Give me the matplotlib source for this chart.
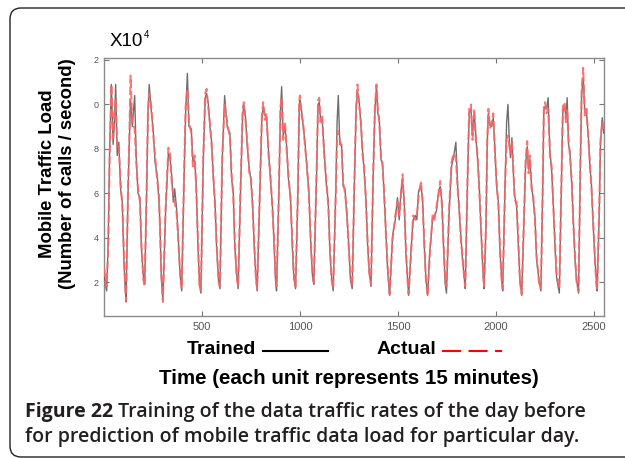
import matplotlib
matplotlib.use("Agg")
import matplotlib.pyplot as plt
from matplotlib.patches import FancyBboxPatch
from matplotlib.lines import Line2D
from matplotlib.transforms import IdentityTransform

plt.rcParams["font.family"] = ["Liberation Sans", "DejaVu Sans"]
plt.rcParams["lines.scale_dashes"] = False

time = [
    0, 6, 12, 20, 27, 36, 45, 52, 58, 66, 74, 83, 92, 100, 106, 111,
    121, 128, 134, 143, 155, 163, 172, 182, 189, 199, 206,
    216, 223, 229, 240, 250, 259, 271, 279, 284, 291, 299,
    313, 327, 335, 344, 352, 359, 369, 376, 386, 395,
    407, 415, 424, 432, 444, 452, 461, 469, 478, 486, 493,
    505, 515, 522, 531, 539, 548, 556, 565, 573, 583, 590,
    602, 614, 627, 641, 650, 658, 666, 675, 683,
    695, 706, 712, 721, 729, 740, 748, 757, 765, 774, 780,
    794, 804, 811, 820, 828, 838, 848, 859, 867, 874, 879,
    891, 899, 905, 913, 922, 930, 940, 950, 959, 967, 976,
    988, 995, 998, 1007, 1015, 1025, 1035, 1044, 1054, 1063, 1069,
    1083, 1091, 1097, 1103, 1112, 1120, 1131, 1143, 1151, 1160, 1168,
    1182, 1188, 1194, 1202, 1211, 1219, 1228, 1236, 1245, 1256, 1265,
    1276, 1285, 1292, 1301, 1310, 1318, 1326, 1335, 1344, 1352, 1361,
    1372, 1381, 1389, 1396, 1403, 1412, 1420, 1429, 1437, 1446, 1456,
    1471, 1485, 1496, 1505, 1514, 1522, 1531, 1539, 1548, 1553,
    1565, 1576, 1587, 1595, 1604, 1616, 1624, 1633, 1641, 1650,
    1661, 1675, 1685, 1695, 1706, 1714, 1723, 1731, 1740, 1746,
    1760, 1772, 1782, 1794, 1803, 1811, 1820, 1828, 1837, 1842,
    1854, 1862, 1871, 1879, 1888, 1896, 1905, 1913, 1926, 1934, 1938,
    1948, 1954, 1960, 1968, 1977, 1985, 1994, 2002, 2011, 2019, 2028, 2033,
    2045, 2053, 2060, 2067, 2073, 2080, 2087, 2094, 2104, 2113, 2121, 2130,
    2141, 2150, 2158, 2165, 2172, 2180, 2189, 2198, 2206, 2218, 2228,
    2237, 2243, 2249, 2257, 2265, 2274, 2283, 2291, 2300, 2308, 2322,
    2332, 2340, 2349, 2356, 2362, 2369, 2376, 2386, 2393, 2402, 2410, 2420,
    2430, 2436, 2444, 2452, 2461, 2470, 2478, 2486, 2495, 2504, 2512, 2515,
    2526, 2532, 2541, 2549,
]

# load in units of 10^4 calls / second
actual = [
    2.6, 2.0, 1.8, 3.5, 7.5, 10.9, 8.5, 9.6, 10.2, 8.0, 8.1, 6.5, 5.4, 3.2, 2.0, 1.15,
    6.2, 8.7, 11.3, 9.2, 8.9, 7.4, 6.2, 5.6, 3.8, 2.1, 1.8,
    6.2, 9.8, 10.5, 9.9, 8.6, 7.7, 6.5, 5.9, 4.4, 2.4, 1.1,
    5.4, 8.05, 7.8, 6.5, 5.9, 5.6, 5.1, 4.1, 2.6, 1.7,
    6.9, 9.9, 10.7, 9.2, 8.7, 7.2, 7.7, 6.2, 3.8, 1.8, 1.6,
    7.7, 10.5, 10.7, 9.8, 9.2, 8.1, 6.9, 5.4, 3.8, 2.0, 1.8,
    7.7, 10.0, 9.2, 8.5, 6.8, 5.9, 3.8, 2.3, 1.8,
    6.2, 9.8, 10.1, 9.2, 8.4, 6.9, 6.8, 5.3, 3.8, 2.1, 1.7,
    6.2, 9.5, 10.1, 9.3, 9.6, 7.7, 6.8, 5.1, 3.8, 2.3, 1.8,
    6.2, 9.9, 10.3, 8.4, 9.2, 8.0, 6.8, 5.7, 3.9, 2.4, 1.8,
    6.2, 10.2, 10.4, 9.5, 9.2, 8.0, 7.2, 5.9, 3.8, 2.3, 2.0,
    6.9, 10.2, 10.3, 9.2, 9.5, 8.0, 6.8, 5.4, 3.6, 2.1, 1.7,
    6.2, 8.6, 8.8, 8.4, 8.0, 6.5, 6.0, 5.4, 3.9, 2.3, 1.8,
    6.5, 9.9, 10.9, 9.9, 9.2, 7.7, 7.2, 5.6, 3.8, 2.4, 1.9,
    6.9, 9.9, 10.9, 9.8, 9.2, 7.7, 7.2, 5.9, 4.1, 2.7, 1.45,
    3.9, 5.0, 5.6, 5.0, 5.9, 6.85, 5.4, 3.5, 2.0, 1.45,
    3.2, 5.0, 4.8, 5.0, 5.9, 6.55, 5.6, 3.8, 2.1, 1.4,
    3.2, 5.0, 4.8, 5.4, 5.9, 6.55, 5.4, 3.8, 2.0, 1.8,
    5.4, 7.4, 7.8, 7.6, 6.2, 5.4, 3.8, 3.2, 2.1, 1.8,
    6.9, 9.8, 10.0, 8.4, 9.8, 8.4, 7.7, 6.2, 3.8, 2.3, 1.8,
    4.7, 8.4, 9.8, 8.9, 9.2, 9.6, 7.7, 6.5, 5.4, 3.6, 2.0, 1.7,
    6.2, 8.4, 8.6, 8.1, 7.8, 8.3, 7.2, 5.7, 5.6, 3.8, 2.0, 1.45,
    4.7, 7.5, 8.35, 6.9, 7.7, 6.2, 5.9, 4.7, 3.2, 2.0, 1.7,
    6.2, 9.9, 10.1, 9.6, 9.8, 7.7, 7.2, 5.4, 3.8, 2.4, 1.7,
    6.2, 9.9, 10.1, 9.2, 9.8, 8.4, 7.7, 6.5, 4.7, 3.2, 2.0, 1.6,
    7.7, 10.7, 11.65, 9.5, 9.8, 8.4, 7.4, 6.2, 4.7, 2.9, 1.8, 1.7,
    5.4, 8.4, 9.2, 8.9,
]

trained = [
    2.4, 1.9, 1.6, 3.8, 7.8, 10.9, 8.2, 9.2, 10.9, 7.7, 8.3, 6.2, 5.6, 3.0, 1.8, 1.1,
    5.9, 8.4, 10.2, 9.0, 10.4, 7.6, 6.0, 5.8, 3.6, 2.3, 1.9,
    6.0, 9.6, 10.9, 9.7, 8.8, 7.4, 6.7, 5.6, 4.6, 2.2, 1.2,
    5.2, 7.8, 7.6, 6.8, 5.6, 6.2, 5.3, 4.3, 2.4, 1.6,
    6.6, 9.6, 11.4, 9.0, 8.9, 7.4, 7.5, 6.4, 3.6, 1.9, 1.5,
    7.4, 10.3, 10.5, 10.0, 9.0, 8.3, 6.7, 5.6, 3.6, 2.1, 1.7,
    7.5, 10.4, 9.0, 8.7, 6.6, 6.1, 3.6, 2.4, 1.7,
    6.0, 9.5, 10.0, 9.4, 8.2, 7.1, 6.6, 5.5, 3.6, 2.2, 1.6,
    6.0, 9.3, 9.9, 9.5, 9.4, 7.9, 6.6, 5.3, 3.6, 2.0, 1.6,
    6.0, 9.7, 10.8, 8.6, 9.0, 8.2, 6.6, 5.9, 3.7, 2.2, 1.7,
    6.0, 10.0, 10.2, 9.7, 9.0, 8.2, 7.0, 6.1, 3.6, 2.2, 1.9,
    6.7, 10.0, 10.1, 9.4, 9.3, 8.2, 6.6, 5.6, 3.4, 2.2, 1.6,
    6.4, 9.2, 10.4, 8.2, 8.2, 6.3, 6.2, 5.2, 4.1, 2.1, 1.7,
    6.3, 9.7, 10.6, 10.1, 9.0, 7.9, 7.0, 5.8, 3.6, 2.5, 1.8,
    6.7, 9.7, 10.8, 9.6, 9.4, 7.5, 7.4, 5.7, 4.3, 2.5, 1.4,
    4.1, 4.8, 5.8, 4.8, 6.1, 6.6, 5.6, 3.3, 2.1, 1.4,
    3.4, 4.8, 5.0, 4.8, 6.1, 6.3, 5.8, 3.6, 2.2, 1.4,
    3.4, 4.8, 5.0, 5.2, 6.1, 6.3, 5.6, 3.6, 1.9, 1.5,
    5.2, 7.2, 7.6, 8.3, 6.4, 5.2, 4.0, 3.0, 2.2, 1.7,
    6.7, 9.6, 9.8, 8.6, 9.6, 8.6, 7.5, 6.4, 3.6, 2.2, 1.7,
    4.5, 8.2, 9.6, 9.1, 9.0, 9.4, 7.9, 6.3, 5.6, 3.4, 2.1, 1.6,
    6.4, 9.2, 10.0, 8.3, 7.6, 8.5, 7.0, 5.9, 5.4, 3.6, 2.1, 1.4,
    4.5, 7.3, 8.1, 7.1, 7.5, 6.4, 5.7, 4.9, 3.0, 2.1, 1.6,
    6.0, 9.7, 9.9, 9.8, 10.3, 7.9, 7.0, 5.6, 3.6, 2.2, 1.5,
    6.0, 9.7, 9.9, 9.4, 10.3, 8.2, 7.9, 6.3, 4.9, 3.0, 2.1, 1.5,
    7.5, 10.5, 11.2, 9.7, 9.6, 8.6, 7.2, 6.4, 4.5, 3.0, 1.9, 1.6,
    5.2, 8.2, 9.4, 8.7,
]

xticks = [500, 1000, 1500, 2000, 2500]
yticks = [12, 10, 8, 6, 4, 2]
ytick_labels = ["2", "0", "8", "6", "4", "2"]   # leading digit is clipped in the original

W, H = 625, 458
fig = plt.figure(figsize=(W / 100, H / 100), dpi=100)
fig.patch.set_facecolor("white")

# rounded frame around figure + caption
frame = FancyBboxPatch((10, 1), 640, 449, boxstyle="round,pad=0,rounding_size=11",
                       transform=IdentityTransform(), fill=False, ec="#222222", lw=1.0)
fig.patches.append(frame)

ax = fig.add_axes([104.3 / W, 1 - 316 / H, (604 - 104.3) / W, (316 - 58) / H])
ax.plot(time, trained, color="#555555", lw=1.0, alpha=0.85, zorder=3)
ax.plot(time, actual, color="#ff6464", lw=1.4, alpha=0.9, dashes=(6, 2.4), zorder=4)
ax.set_xlim(0, 2550)
ax.set_ylim(0.47, 12.09)
ax.set_xticks(xticks)
ax.set_yticks(yticks)
ax.set_yticklabels(ytick_labels)
ax.tick_params(direction="in", length=3.5, width=0.8, color="#777777",
               top=True, right=True, labelcolor="#555555")
ax.tick_params(axis="x", labelsize=8, pad=4)
ax.tick_params(axis="y", labelsize=6.5, pad=4)
for s in ax.spines.values():
    s.set_color("#8a8a8a")
    s.set_linewidth(1.0)

fig.text(110 / W, 1 - 46 / H, "X10", fontsize=13.5, va="baseline", ha="left")
fig.text(144 / W, 1 - 38 / H, "4", fontsize=7, va="baseline", ha="left")

fig.text(57.5 / W, 1 - 174 / H, "Mobile Traffic Load\n(Number of calls / second)",
         rotation=90, ha="center", va="center", multialignment="center",
         fontsize=13.3, weight="bold", linespacing=1.3)

# hand-drawn legend under the axes
fig.text(187 / W, 1 - 354 / H, "Trained", fontsize=14, weight="bold", va="baseline")
fig.add_artist(Line2D([263 / W, 328 / W], [1 - 351 / H] * 2, color="black", lw=1.5))
fig.text(377 / W, 1 - 354 / H, "Actual", fontsize=14, weight="bold", va="baseline")
fig.add_artist(Line2D([442 / W, 502 / W], [1 - 351 / H] * 2, color="#ff0000", lw=1.5,
                      dashes=(13.7, 5.4)))

fig.text(349 / W, 1 - 378 / H, "Time (each unit represents 15 minutes)",
         ha="center", va="center", fontsize=14.8, weight="bold")

# caption
cap = dict(family=["Open Sans", "DejaVu Sans"], fontsize=14.0, color="#231f20", va="baseline")
fig.canvas.draw()
r = fig.canvas.get_renderer()
t1 = fig.text(25 / W, 1 - 417 / H, "Figure 22", weight="bold", **cap)
bb = t1.get_window_extent(r)
fig.text(bb.x1 / W, 1 - 417 / H, " Training of the data traffic rates of the day before",
         weight="semibold", **cap)
fig.text(25 / W, 1 - 442 / H, "for prediction of mobile traffic data load for particular day.",
         weight="semibold", **cap)

fig.savefig("out.png", dpi=100, facecolor="white")
